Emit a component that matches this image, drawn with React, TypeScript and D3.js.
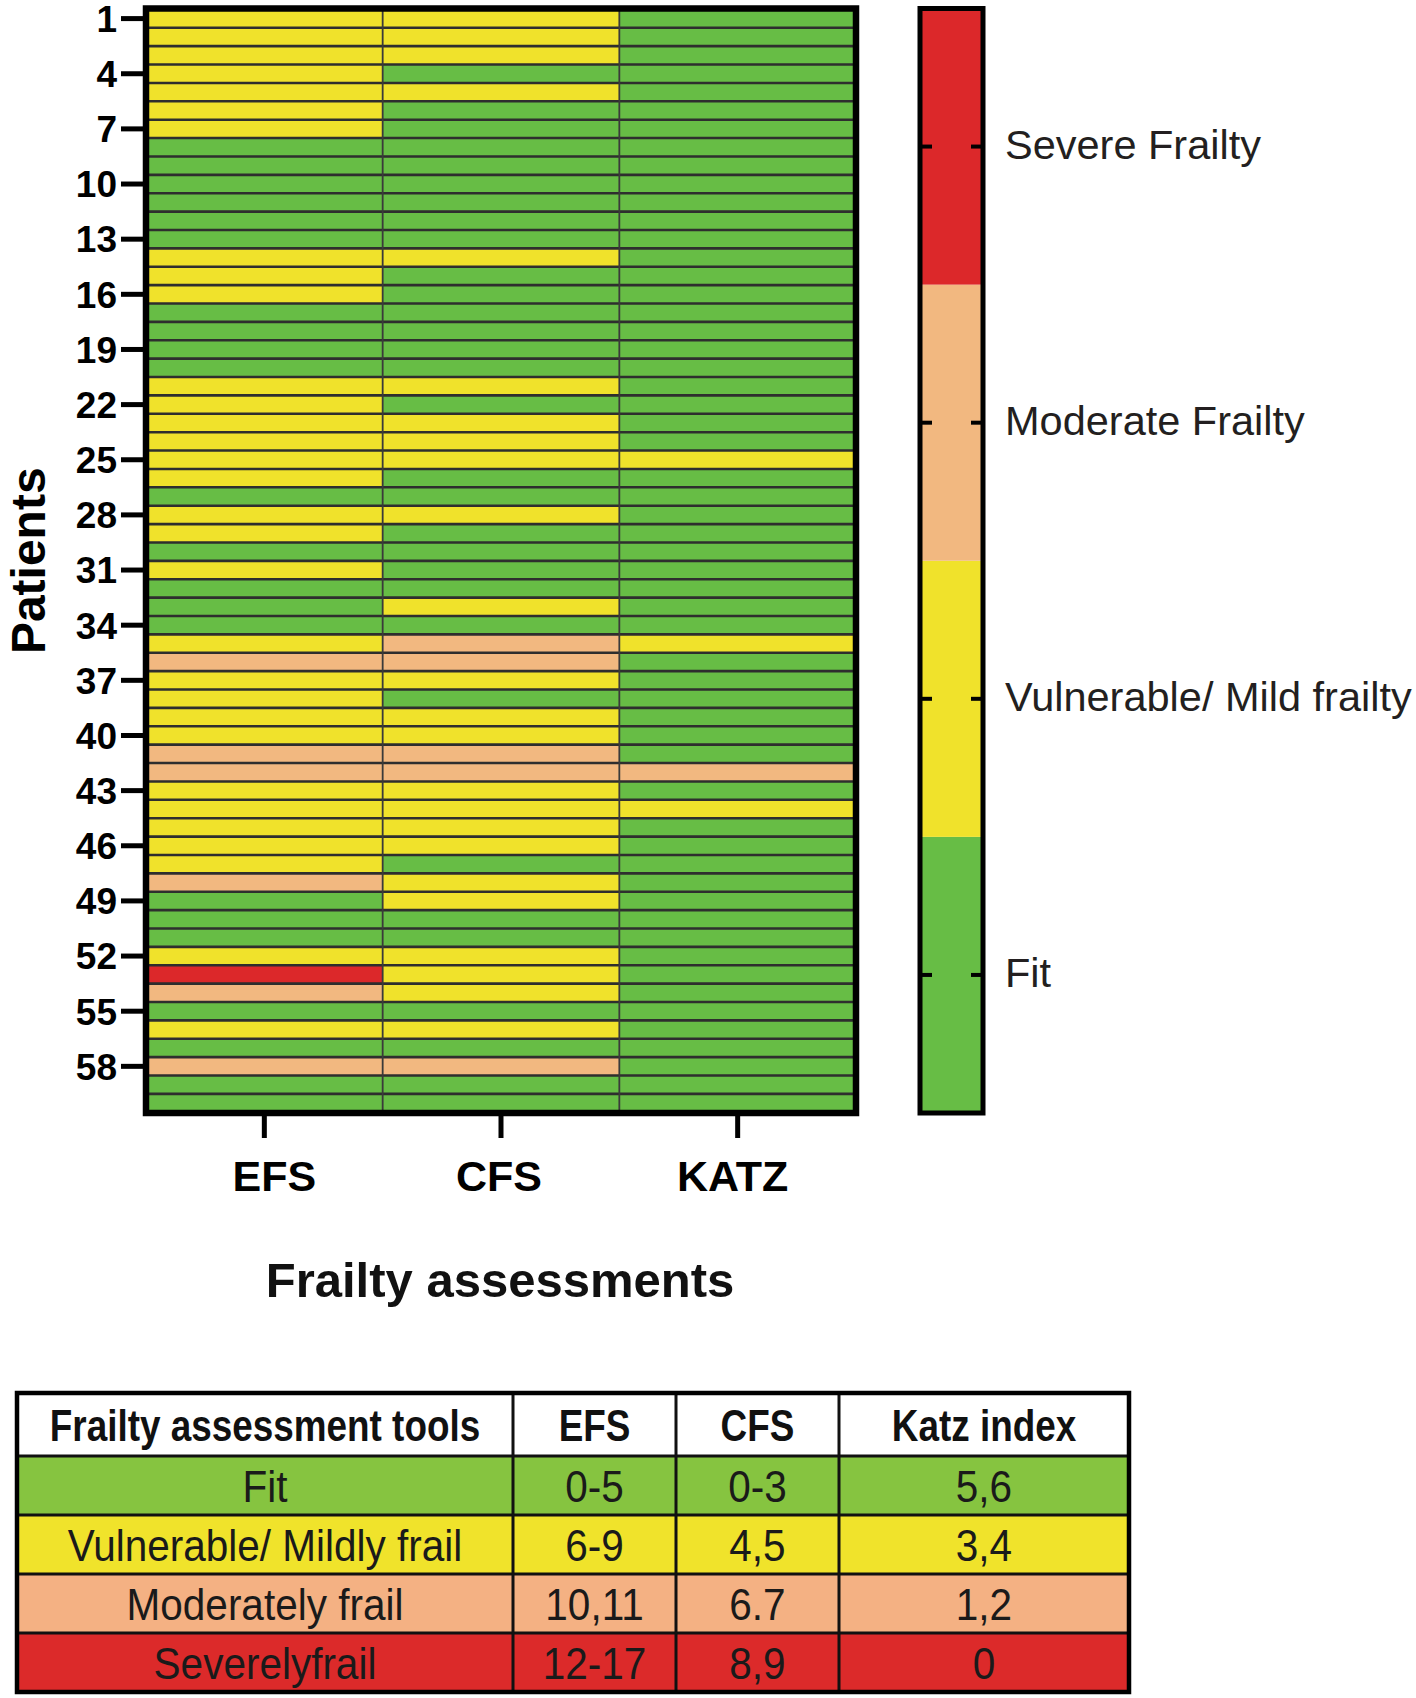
import React from "react";
import * as d3 from "d3";

// ---------- data ----------
const assessments = ["EFS", "CFS", "KATZ"];
const patients = d3.range(1, 61);
const patientTicks = [1, 4, 7, 10, 13, 16, 19, 22, 25, 28, 31, 34, 37, 40, 43, 46, 49, 52, 55, 58];
// 0 = Fit, 1 = Vulnerable/Mild, 2 = Moderate, 3 = Severe
const efsLevels = [
  1, 1, 1, 1, 1, 1, 1, 0, 0, 0,
  0, 0, 0, 1, 1, 1, 0, 0, 0, 0,
  1, 1, 1, 1, 1, 1, 0, 1, 1, 0,
  1, 0, 0, 0, 1, 2, 1, 1, 1, 1,
  2, 2, 1, 1, 1, 1, 1, 2, 0, 0,
  0, 1, 3, 2, 0, 1, 0, 2, 0, 0,
];
const cfsLevels = [
  1, 1, 1, 0, 1, 0, 0, 0, 0, 0,
  0, 0, 0, 1, 0, 0, 0, 0, 0, 0,
  1, 0, 1, 1, 1, 0, 0, 1, 0, 0,
  0, 0, 1, 0, 2, 2, 1, 0, 1, 1,
  2, 2, 1, 1, 1, 1, 0, 1, 1, 0,
  0, 1, 1, 1, 0, 1, 0, 2, 0, 0,
];
const katzLevels = [
  0, 0, 0, 0, 0, 0, 0, 0, 0, 0,
  0, 0, 0, 0, 0, 0, 0, 0, 0, 0,
  0, 0, 0, 0, 1, 0, 0, 0, 0, 0,
  0, 0, 0, 0, 1, 0, 0, 0, 0, 0,
  0, 2, 0, 1, 0, 0, 0, 0, 0, 0,
  0, 0, 0, 0, 0, 0, 0, 0, 0, 0,
];
const levelLabels = ["Fit", "Vulnerable/ Mild frailty", "Moderate Frailty", "Severe Frailty"];
const levelColors = ["#67bd45", "#f0e22b", "#f2b880", "#dc282a"];

const tableHeader = ["Frailty assessment tools", "EFS", "CFS", "Katz index"];
const tableCategories = ["Fit", "Vulnerable/ Mildly frail", "Moderately frail", "Severelyfrail"];
const tableEfs = ["0-5", "6-9", "10,11", "12-17"];
const tableCfs = ["0-3", "4,5", "6.7", "8,9"];
const tableKatz = ["5,6", "3,4", "1,2", "0"];
const tableColors = ["#86c440", "#f0e32b", "#f4b183", "#dc2a2a"];

// ---------- layout ----------
const W = 1416;
const H = 1698;
const plot = { left: 146, right: 856, top: 8.5, bottom: 1113 };
const xLabelNudge = [10, -2, -5];
const sans = "'Liberation Sans', Arial, Helvetica, sans-serif";

export default function App() {
  const x = d3.scaleBand<string>().domain(assessments).range([plot.left, plot.right]);
  const y = d3.scaleLinear().domain([0.5, 60.5]).range([9.4, 1112.3]);
  const color = d3.scaleOrdinal<number, string>().domain([0, 1, 2, 3]).range(levelColors);
  const series = [efsLevels, cfsLevels, katzLevels];

  const legend = { left: 920, right: 983 };
  const ly = d3.scaleLinear().domain([0, 4]).range([plot.bottom, plot.top]);

  const table = { left: 17, top: 1393, colEdges: [17, 513, 676, 839, 1129], headerH: 63, rowH: 59 };
  const tRowTop = (i: number) => table.top + table.headerH + i * table.rowH;
  const tCols = [tableCategories, tableEfs, tableCfs, tableKatz];

  return (
    <svg width={W} height={H} style={{ position: "absolute", left: 0, top: 0, background: "#fff" }}>
      <defs>
        <clipPath id="plotClip">
          <rect x={plot.left} y={plot.top} width={plot.right - plot.left} height={plot.bottom - plot.top} />
        </clipPath>
      </defs>

      {/* heatmap cells */}
      <g clipPath="url(#plotClip)">
        {assessments.map((a, ci) =>
          patients.map((p, ri) => (
            <rect
              key={a + p}
              x={x(a)!}
              y={y(p - 0.5)}
              width={x.bandwidth()}
              height={y(p + 0.5) - y(p - 0.5)}
              fill={color(series[ci][ri])}
            />
          ))
        )}
        {patients.slice(1).map((p) => (
          <line key={"h" + p} x1={plot.left} x2={plot.right} y1={y(p - 0.5)} y2={y(p - 0.5)} stroke="#2e2e2e" strokeWidth={2.6} />
        ))}
        {assessments.slice(1).map((a) => (
          <line key={"v" + a} x1={x(a)!} x2={x(a)!} y1={plot.top} y2={plot.bottom} stroke="#3a3a3a" strokeWidth={1.8} />
        ))}
      </g>
      <rect
        x={plot.left}
        y={plot.top}
        width={plot.right - plot.left}
        height={plot.bottom - plot.top}
        fill="none"
        stroke="#000"
        strokeWidth={6.5}
      />

      {/* y axis */}
      {patientTicks.map((t) => (
        <g key={"yt" + t}>
          <line x1={121} x2={plot.left} y1={y(t)} y2={y(t)} stroke="#000" strokeWidth={5} />
          <text x={117} y={y(t)} dy="0.36em" textAnchor="end" fontFamily={sans} fontWeight="bold" fontSize={37} fill="#000">
            {t}
          </text>
        </g>
      ))}
      <text
        transform={`translate(45, ${(plot.top + plot.bottom) / 2}) rotate(-90)`}
        textAnchor="middle"
        fontFamily={sans}
        fontWeight="bold"
        fontSize={48}
        fill="#000"
      >
        Patients
      </text>

      {/* x axis */}
      {assessments.map((a, i) => {
        const cx = x(a)! + x.bandwidth() / 2;
        return (
          <g key={"xt" + a}>
            <line x1={cx} x2={cx} y1={plot.bottom + 3} y2={1138} stroke="#000" strokeWidth={5} />
            <text x={cx + xLabelNudge[i]} y={1191} textAnchor="middle" fontFamily={sans} fontWeight="bold" fontSize={43} fill="#000">
              {a}
            </text>
          </g>
        );
      })}
      <text x={500} y={1297} textAnchor="middle" fontFamily={sans} fontWeight="bold" fontSize={49} fill="#111">
        Frailty assessments
      </text>

      {/* legend color bar */}
      {levelColors.map((c, i) => (
        <rect key={"lg" + i} x={legend.left} y={ly(i + 1)} width={legend.right - legend.left} height={ly(i) - ly(i + 1)} fill={c} />
      ))}
      <rect
        x={legend.left}
        y={plot.top}
        width={legend.right - legend.left}
        height={plot.bottom - plot.top}
        fill="none"
        stroke="#000"
        strokeWidth={5}
      />
      {levelLabels.map((lab, i) => {
        const cy = ly(i + 0.5);
        return (
          <g key={"ll" + i}>
            <line x1={legend.left} x2={legend.left + 12} y1={cy} y2={cy} stroke="#000" strokeWidth={4} />
            <line x1={legend.right - 12} x2={legend.right} y1={cy} y2={cy} stroke="#000" strokeWidth={4} />
            <text x={1005} y={cy} dy="0.3em" fontFamily={sans} fontSize={41.5} fill="#231f20">
              {lab}
            </text>
          </g>
        );
      })}

      {/* table */}
      <g>
        <rect x={table.left} y={table.top} width={table.colEdges[4] - table.left} height={table.headerH} fill="#fff" />
        {tableColors.map((c, i) => (
          <rect
            key={"tr" + i}
            x={table.left}
            y={tRowTop(i)}
            width={table.colEdges[4] - table.left}
            height={table.rowH}
            fill={c}
          />
        ))}
        {d3.range(0, 4).map((i) => (
          <line key={"trl" + i} x1={table.left} x2={table.colEdges[4]} y1={tRowTop(i)} y2={tRowTop(i)} stroke="#111" strokeWidth={3} />
        ))}
        {table.colEdges.slice(1, 4).map((cx, i) => (
          <line key={"tcl" + i} x1={cx} x2={cx} y1={table.top} y2={tRowTop(4)} stroke="#111" strokeWidth={3} />
        ))}
        <rect
          x={table.left}
          y={table.top}
          width={table.colEdges[4] - table.left}
          height={tRowTop(4) - table.top}
          fill="none"
          stroke="#000"
          strokeWidth={4.5}
        />
        {tableHeader.map((h, ci) => (
          <text
            key={"th" + ci}
            transform={`translate(${(table.colEdges[ci] + table.colEdges[ci + 1]) / 2}, ${table.top + table.headerH / 2}) scale(0.82, 1)`}
            dy="0.36em"
            textAnchor="middle"
            fontFamily={sans}
            fontWeight="bold"
            fontSize={45}
            fill="#111"
          >
            {h}
          </text>
        ))}
        {tCols.map((col, ci) =>
          col.map((v, ri) => (
            <text
              key={"td" + ci + "-" + ri}
              transform={`translate(${(table.colEdges[ci] + table.colEdges[ci + 1]) / 2}, ${tRowTop(ri) + table.rowH / 2}) scale(0.9, 1)`}
              dy="0.36em"
              textAnchor="middle"
              fontFamily={sans}
              fontSize={45}
              fill="#1a1a1a"
            >
              {v}
            </text>
          ))
        )}
      </g>
    </svg>
  );
}
